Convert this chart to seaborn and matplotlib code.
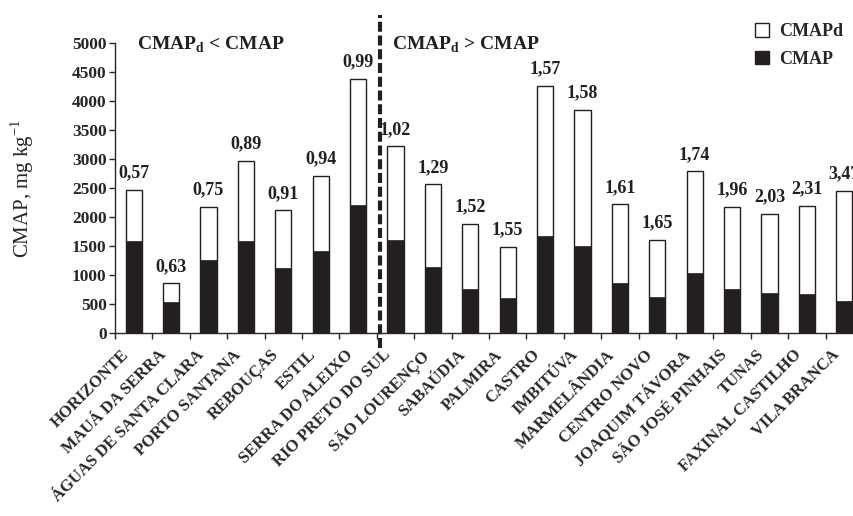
import matplotlib
matplotlib.use("Agg")
import matplotlib.pyplot as plt
import matplotlib.transforms as mtransforms
import seaborn as sns
import pandas as pd
from matplotlib.patches import Patch

locais = ["HORIZONTE", "MAUÁ DA SERRA", "ÁGUAS DE SANTA CLARA", "PORTO SANTANA",
          "REBOUÇAS", "ESTIL", "SERRA DO ALEIXO", "RIO PRETO DO SUL", "SÃO LOURENÇO",
          "SABAÚDIA", "PALMIRA", "CASTRO", "IMBITÚVA", "MARMELÂNDIA", "CENTRO NOVO",
          "JOAQUIM TÁVORA", "SÃO JOSÉ PINHAIS", "TUNAS", "FAXINAL CASTILHO", "VILA BRANCA"]
cmap = [1588, 533, 1261, 1588, 1118, 1411, 2208, 1606, 1135, 763,
        596, 1669, 1508, 860, 619, 1026, 751, 688, 671, 556]
total = [2466, 860, 2173, 2970, 2116, 2712, 4386, 3222, 2563, 1881,
         1491, 4266, 3847, 2219, 1606, 2787, 2179, 2058, 2190, 2454]
razao = ["0,57", "0,63", "0,75", "0,89", "0,91", "0,94", "0,99", "1,02", "1,29", "1,52",
         "1,55", "1,57", "1,58", "1,61", "1,65", "1,74", "1,96", "2,03", "2,31", "3,47"]

df = pd.DataFrame({"local": locais, "CMAP": cmap, "total": total})

sns.set_style("ticks")
plt.rcParams["font.family"] = ["Liberation Serif", "DejaVu Serif"]
plt.rcParams["mathtext.fontset"] = "custom"
plt.rcParams["mathtext.rm"] = "Liberation Serif"
plt.rcParams["mathtext.bf"] = "Liberation Serif:bold"

fig = plt.figure(figsize=(8.54, 5.16), dpi=100)
ax = fig.add_axes([115/854, (516-333)/516, 748/854, 290/516])

sns.barplot(data=df, x="local", y="total", color="white", edgecolor="#231f20",
            linewidth=1.0, width=0.43, ax=ax, saturation=1)
sns.barplot(data=df, x="local", y="CMAP", color="#231f20", edgecolor="#231f20",
            linewidth=0.5, width=0.43, ax=ax, saturation=1)

for i, (t, r) in enumerate(zip(total, razao)):
    ax.annotate(r, (i, t), xytext=(0, 6), textcoords="offset points",
                ha="center", va="bottom", fontsize=13, fontweight="bold",
                color="#231f20")

ax.set_xlim(-0.5, len(locais) - 0.5)
ax.set_ylim(0, 5000)
ax.set_yticks(range(0, 5001, 500))
ax.tick_params(axis="y", labelsize=12.5, direction="out", length=4, width=1, pad=2)
for lab in ax.get_yticklabels():
    lab.set_fontweight("bold")

ax.set_xticks(range(len(locais)))
ax.set_xticklabels(locais, rotation=45, ha="right", rotation_mode="anchor",
                   fontsize=12, fontweight="bold")
ax.tick_params(axis="x", which="major", length=0, pad=10)
shift = mtransforms.ScaledTranslation(-13/100, 0, fig.dpi_scale_trans)
for lab in ax.get_xticklabels():
    lab.set_transform(lab.get_transform() + shift)
ax.set_xticks([k - 0.5 for k in range(len(locais) + 1)], minor=True)
ax.tick_params(axis="x", which="minor", length=4, width=1, direction="out")

ax.set_xlabel("")
ax.set_ylabel("CMAP, mg kg$^{-1}$", fontsize=15)
ax.yaxis.set_label_coords(-0.105, 0.5)
sns.despine(ax=ax)
ax.spines["left"].set_linewidth(1)
ax.spines["bottom"].set_linewidth(1)

trans = mtransforms.blended_transform_factory(ax.transData, ax.transAxes)
ax.plot([6.58, 6.58], [-0.052, 1.097], transform=trans, color="#231f20",
        linewidth=3, linestyle=(0, (2.4, 0.9)), clip_on=False)

ax.text(0.029, 1.03, r"CMAP$_{\mathbf{d}}$ < CMAP", transform=ax.transAxes,
        fontsize=14, fontweight="bold", va="top", ha="left", color="#231f20")
ax.text(0.370, 1.03, r"CMAP$_{\mathbf{d}}$ > CMAP", transform=ax.transAxes,
        fontsize=14, fontweight="bold", va="top", ha="left", color="#231f20")

handles = [Patch(facecolor="white", edgecolor="#231f20", linewidth=1),
           Patch(facecolor="#231f20", edgecolor="#231f20")]
fig.legend(handles, ["CMAPd", "CMAP"], loc="upper left",
           bbox_to_anchor=(739/854, 1 - 7/516), frameon=False,
           prop={"weight": "bold", "size": 13}, handlelength=0.75, handleheight=0.75,
           handletextpad=0.55, labelspacing=0.6)

fig.savefig("out.png", dpi=100)
